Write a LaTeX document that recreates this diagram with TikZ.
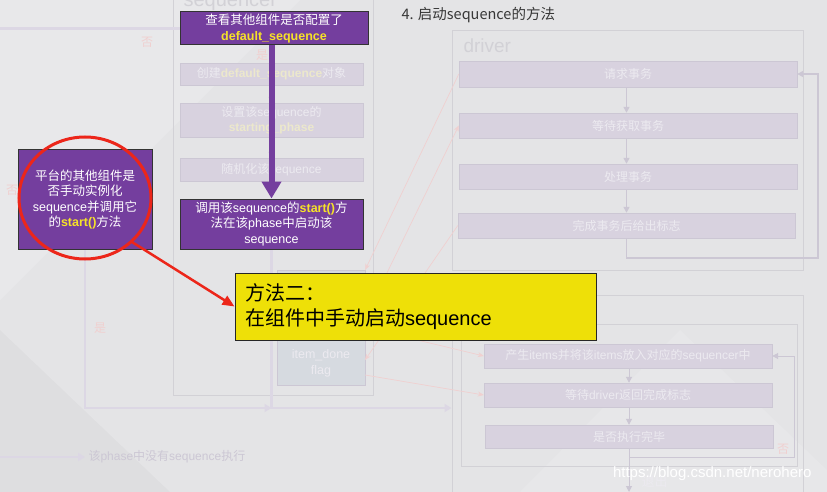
\documentclass[tikz,border=0pt]{standalone}
\usepackage{fontspec}
\setmainfont{Noto Sans CJK SC}
\newfontfamily\lat{Liberation Sans}
\usetikzlibrary{arrows.meta}

\definecolor{bgcol}{RGB}{228,228,230}
\definecolor{purp}{RGB}{116,62,158}
\definecolor{hlyellow}{RGB}{246,226,40}
\definecolor{memo}{RGB}{238,224,8}
\definecolor{ringred}{RGB}{236,38,26}
\definecolor{fadefill}{RGB}{216,210,223}
\definecolor{fadeline}{RGB}{204,199,212}
\definecolor{flowcol}{RGB}{220,215,228}
\definecolor{fadetext}{RGB}{236,234,240}
\definecolor{framecol}{RGB}{210,209,214}
\definecolor{fadered}{RGB}{240,208,208}
\definecolor{fadeyellow}{RGB}{236,232,204}
\definecolor{itemfill}{RGB}{214,218,224}
\definecolor{titlegray}{RGB}{55,55,55}

\newcommand\hl[1]{\textcolor{hlyellow}{\lat\bfseries #1}}
\newcommand\hlfade[1]{\textcolor{fadeyellow}{\lat\bfseries #1}}

\tikzset{
    purplebox/.style = {
        draw=black!80,
        line width=1pt,
        fill=purp,
        text=white,
        align=center,
        inner sep=1pt,
        font=\fontsize{12.5}{15.5}\selectfont
    },
    fadebox/.style = {
        draw=fadeline,
        fill=fadefill,
        text=fadetext,
        align=center,
        inner sep=1pt,
        font=\fontsize{12}{15}\selectfont
    },
    frame/.style = {
        draw=framecol,
        line width=1pt,
        inner sep=0pt
    },
    fadeflow/.style = {
        draw=flowcol,
        line width=2.5pt,
        -{Triangle[length=7pt,width=8pt]}
    },
    thinflow/.style = {
        draw=fadeline,
        line width=1.5pt,
        -{Triangle[length=6pt,width=6pt]}
    },
    redlink/.style = {
        draw=fadered,
        line width=0.7pt,
        -{Stealth[length=6pt,width=5pt]}
    },
    fadelabel/.style = {
        text=fadered,
        font=\fontsize{12}{12}\selectfont
    }
}

\begin{document}
\begin{tikzpicture}[x=1pt,y=-1pt]
    \useasboundingbox (0,0) rectangle (827,492);
    \fill[bgcol] (0,0) rectangle (827,492);
    \fill[white,opacity=0.18] (0,0) -- (300,0) -- (0,300) -- cycle;
    \fill[white,opacity=0.12] (520,492) -- (680,330) -- (827,470) -- (827,492) -- cycle;
    \fill[black,opacity=0.025] (0,330) -- (170,492) -- (0,492) -- cycle;

    % sequencer column (faded)
    \node[frame, minimum width=200pt, minimum height=405pt] (seqframe) at (273,192.5) {};
    \node[anchor=base west, text=framecol, font=\lat\fontsize{20}{20}\selectfont] (seqname) at (180,7) {sequencer};
    \node[fadebox, minimum width=183pt, minimum height=22pt] (mkdef) at (271.5,74) {创建\hlfade{default\_sequence}对象};
    \node[fadebox, minimum width=183pt, minimum height=34pt] (setph) at (271.5,120) {设置该{\lat sequence}的\\\hlfade{starting\_phase}};
    \node[fadebox, minimum width=183pt, minimum height=23pt] (rand) at (271.5,169.5) {随机化该{\lat sequence}};
    \node[fadebox, fill=itemfill, minimum width=88pt, minimum height=115pt] (itemdone) at (321,327.5) {};
    \node[text=fadetext, align=center, font=\lat\fontsize{12.5}{16}\selectfont] (itemtxt) at (321,363) {item\_done\\flag};
    \node[fadelabel] (yes1) at (262,55) {是};
    \draw[thinflow] (mkdef) -- (setph);
    \draw[thinflow] (setph) -- (rand);

    % driver (faded)
    \node[frame, minimum width=351pt, minimum height=239pt] (drvframe) at (627.5,150.5) {};
    \node[anchor=base west, text=framecol, font=\lat\fontsize{19}{19}\selectfont] (drvname) at (460,53) {driver};
    \node[fadebox, minimum width=338pt, minimum height=26pt] (req) at (628,74) {请求事务};
    \node[fadebox, minimum width=338pt, minimum height=25pt] (wait) at (628,125.5) {等待获取事务};
    \node[fadebox, minimum width=338pt, minimum height=25pt] (proc) at (628,176.5) {处理事务};
    \node[fadebox, minimum width=337pt, minimum height=25pt] (done) at (626.5,225.5) {完成事务后给出标志};
    \coordinate (lp2) at (818,258);
    \draw[thinflow] (req.south -| done) -- (wait.north -| done);
    \draw[thinflow] (wait.south -| done) -- (proc.north -| done);
    \draw[thinflow] (proc.south -| done) -- (done.north);
    \draw[thinflow] (done.south) |- (lp2) |- (req.east);

    % sequence body (faded)
    \node[frame, minimum width=351pt, minimum height=215pt] (seqbody) at (627.5,402.5) {};
    \node[frame, minimum width=336pt, minimum height=142pt] (bodyin) at (629,395) {};
    \node[fadebox, minimum width=288pt, minimum height=24pt] (gen) at (628,356) {产生{\lat items}并将该{\lat items}放入对应的{\lat sequencer}中};
    \node[fadebox, minimum width=288pt, minimum height=24pt] (waitd) at (628,395) {等待{\lat driver}返回完成标志};
    \node[fadebox, minimum width=288pt, minimum height=23pt] (fin) at (629,436.5) {是否执行完毕};
    \coordinate (lp1) at (794,457);
    \coordinate (exitpt) at (629,492);
    \draw[thinflow, line width=1pt] (gen.south -| fin) -- (waitd.north -| fin);
    \draw[thinflow, line width=1pt] (waitd.south -| fin) -- (fin.north);
    \draw[thinflow, line width=1pt] (fin.south) |- (lp1) |- (gen.east);
    \draw[thinflow, line width=1pt] (fin.south) -- (exitpt);
    \node[fadelabel] (no3) at (783,449) {否};
    \node[anchor=west, text=fadetext, font=\fontsize{13}{13}\selectfont] (quit) at (638,482) {退出};

    % links between components (faded red)
    \coordinate (ia) at (365,318);
    \coordinate (ib) at (365,360);
    \coordinate (ic) at (365,375);
    \draw[redlink] (req.west) -- (itemdone.north east);
    \draw[redlink] (ia) -- (wait.west);
    \draw[redlink] (done.west) -- (ib);
    \draw[redlink] (ic) -- (waitd.west);
    \draw[redlink] (itemdone.east) -- (gen.west);

    % left flow (faded)
    \coordinate (lefttop) at (0,28.5);
    \coordinate (join) at (271.5,408);
    \coordinate (leftbot) at (0,457);
    \draw[draw=flowcol, line width=2.5pt] (lefttop) -- (180,28.5);
    \node[fadelabel] (no1) at (147,42) {否};
    \node[fadelabel] (no2) at (12,190) {否};
    \node[fadelabel] (yes2) at (100,328) {是};
    \draw[fadeflow] (85,249) |- (join);
    \draw[fadeflow] (271.5,249) -- (join) -- (seqbody.west |- join);
    \node[anchor=west, text=fadeline, font=\fontsize{12}{12}\selectfont] (nophase) at (85,457) {该{\lat phase}中没有{\lat sequence}执行};
    \draw[fadeflow] (leftbot) -- (nophase.west);

    % title
    \node[anchor=base west, text=titlegray, font=\fontsize{14.5}{14.5}\selectfont] (title) at (398,20) {4. 启动sequence的方法};

    % highlighted steps
    \node[purplebox, minimum width=188pt, minimum height=33pt] (qcfg) at (274,28.5) {查看其他组件是否配置了\\\hl{default\_sequence}};
    \node[purplebox, minimum width=183pt, minimum height=50pt] (callst) at (271.5,224) {调用该{\lat sequence}的\hl{start()}方\\法在该{\lat phase}中启动该\\{\lat sequence}};
    \node[purplebox, minimum width=134pt, minimum height=99pt] (plat) at (85,199.5) {平台的其他组件是\\否手动实例化\\{\lat sequence}并调用它\\的\hl{start()}方法};
    \draw[purp, line width=6pt, -{Triangle[length=17pt,width=19pt]}] (qcfg.south -| callst.north) -- (callst.north);

    % callout
    \coordinate (ringc) at (85,198);
    \coordinate (ringpt) at (132,242);
    \draw[ringred, line width=3pt] (ringc) ellipse [x radius=66pt, y radius=61pt];
    \node[draw=black!85, line width=1pt, fill=memo, minimum width=361pt, minimum height=67pt,
          text width=341pt, align=left, inner xsep=10pt,
          font=\fontsize{20}{25}\selectfont] (memo) at (415.5,306.5) {方法二：\\在组件中手动启动{\lat sequence}};
    \draw[ringred, line width=2.5pt, -{Triangle[length=12pt,width=10pt]}] (ringpt) -- (memo.west);

    % watermark
    \node[anchor=base east, text=white, font=\lat\fontsize{15}{15}\selectfont] (wm) at (815,477) {https://blog.csdn.net/nerohero};
\end{tikzpicture}
\end{document}
